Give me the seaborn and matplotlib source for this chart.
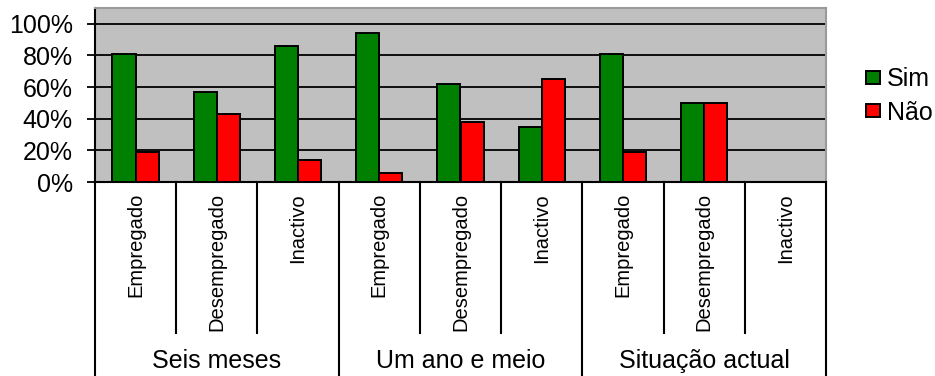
import matplotlib
matplotlib.use("Agg")
import matplotlib.pyplot as plt
import matplotlib.transforms as mtransforms
from matplotlib.patches import Patch
import numpy as np
import pandas as pd
import seaborn as sns

# --- data -------------------------------------------------------------
periodos = ["Seis meses", "Um ano e meio", "Situação actual"]
situacoes = ["Empregado", "Desempregado", "Inactivo"]
respostas = ["Sim", "Não"]
sim = [0.81, 0.57, 0.86, 0.94, 0.62, 0.35, 0.81, 0.50, np.nan]
nao = [0.19, 0.43, 0.14, 0.06, 0.38, 0.65, 0.19, 0.50, np.nan]
y_ticks = [0.0, 0.2, 0.4, 0.6, 0.8, 1.0]
y_tick_labels = ["0%", "20%", "40%", "60%", "80%", "100%"]

cores = {"Sim": "#008000", "Não": "#FF0000"}

# long-form table: one row per (period, situation, answer)
linhas = []
chaves = []
k = 0
for p in periodos:
    for s in situacoes:
        chave = f"{p}|{s}"
        chaves.append(chave)
        for r, serie in zip(respostas, (sim, nao)):
            linhas.append({"chave": chave, "periodo": p, "situacao": s,
                           "resposta": r, "valor": serie[k]})
        k += 1
df = pd.DataFrame(linhas).dropna(subset=["valor"])

# --- figure -----------------------------------------------------------
plt.rcParams["font.family"] = ["Liberation Sans", "DejaVu Sans"]
fig = plt.figure(figsize=(9.35, 3.76), dpi=100)
ax = fig.add_axes([95 / 935, (376 - 182) / 376, (826 - 95) / 935, (182 - 8) / 376])
ax.set_facecolor("#C0C0C0")

sns.barplot(data=df, x="chave", y="valor", hue="resposta", order=chaves,
            hue_order=respostas, palette=cores, saturation=1, width=0.57,
            dodge=True, edgecolor="black", linewidth=1.4, errorbar=None,
            ax=ax, legend=False, zorder=3)

ax.set_xlim(-0.5, len(chaves) - 0.5)
ax.set_ylim(0, 1.1)
ax.set_yticks(y_ticks)
ax.set_yticklabels(y_tick_labels, fontsize=18)
ax.tick_params(axis="y", direction="out", length=6, width=1.3, pad=10, color="black")
ax.tick_params(axis="x", bottom=False, labelbottom=False)
ax.set_xlabel("")
ax.set_ylabel("")

for y in y_ticks[1:]:
    ax.axhline(y, color="black", lw=1.3, zorder=1)

for lado in ("left", "bottom"):
    ax.spines[lado].set_color("black")
    ax.spines[lado].set_linewidth(1.5)
for lado in ("top", "right"):
    ax.spines[lado].set_color("#9A9A9A")
    ax.spines[lado].set_linewidth(1.5)

# --- category table under the axis ---------------------------------------
trans = mtransforms.blended_transform_factory(ax.transData, ax.transAxes)
altura = 182 - 8
y_inner = -(333 - 182) / altura
y_fundo = -(376 - 182) / altura - 0.02
y_rot = -(193 - 182) / altura
y_grupo = -(361 - 182) / altura

n_sit = len(situacoes)
for i in range(len(chaves) + 1):
    xs = i - 0.5
    grupo = (i % n_sit == 0)
    ax.plot([xs, xs], [0, y_fundo if grupo else y_inner], transform=trans,
            color="black", lw=1.5, clip_on=False, zorder=5)

for i, chave in enumerate(chaves):
    s = chave.split("|")[1]
    ax.text(i, y_rot, s, rotation=90, ha="center", va="top", fontsize=14.5,
            transform=trans, clip_on=False)

for g, p in enumerate(periodos):
    centro = g * n_sit + (n_sit - 1) / 2
    ax.text(centro, y_grupo, p, ha="center", va="center", fontsize=18,
            transform=trans, clip_on=False)

# --- legend -------------------------------------------------------------
handles = [Patch(facecolor=cores[r], edgecolor="black", linewidth=1.4) for r in respostas]
fig.legend(handles, respostas, loc="center left",
           bbox_to_anchor=(866 / 935, 1 - 96 / 376), frameon=False,
           fontsize=18, handlelength=0.56, handleheight=0.4,
           handletextpad=0.28, labelspacing=0.37, borderpad=0,
           borderaxespad=0)

fig.savefig("out.png", dpi=100)
